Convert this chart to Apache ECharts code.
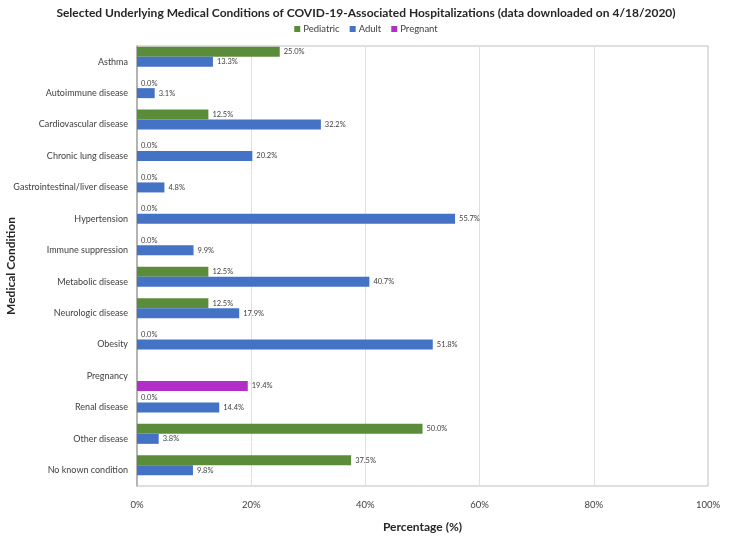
<!DOCTYPE html>
<html>
<head>
<meta charset="utf-8">
<script src="https://cdn.jsdelivr.net/npm/echarts@6/dist/echarts.min.js"></script>
<style>html,body{margin:0;padding:0;background:#fff}#c{width:732px;height:542px}</style>
</head>
<body>
<div id="c"></div>
<script>
var categories = ["Asthma","Autoimmune disease","Cardiovascular disease","Chronic lung disease","Gastrointestinal/liver disease","Hypertension","Immune suppression","Metabolic disease","Neurologic disease","Obesity","Pregnancy","Renal disease","Other disease","No known condition"];
var pediatric = [25.0,0.0,12.5,0.0,0.0,0.0,0.0,12.5,12.5,0.0,null,0.0,50.0,37.5];
var adult = [13.3,3.1,32.2,20.2,4.8,55.7,9.9,40.7,17.9,51.8,null,14.4,3.8,9.8];
var pregnant = [null,null,null,null,null,null,null,null,null,null,19.4,null,null,null];
var xTicks = [0,20,40,60,80,100];

var font = "Lato, 'Open Sans', sans-serif";
var chart = echarts.init(document.getElementById('c'), null, {renderer:'canvas'});
function lbl(){
  return {show:true, position:'right', distance:4, fontSize:7.5, color:'#404040', fontFamily:font,
    formatter:function(p){return p.value==null?'':p.value.toFixed(1)+'%';}};
}
chart.setOption({
  animation:false,
  title:{text:'Selected Underlying Medical Conditions of COVID-19-Associated Hospitalizations (data downloaded on 4/18/2020)',
    left:'center', top:2, textStyle:{fontSize:12, fontWeight:'bold', color:'#262626', fontFamily:font}},
  legend:{top:19, left:'center', itemWidth:6, itemHeight:6, itemGap:10, icon:'rect',
    textStyle:{fontSize:9.5, color:'#404040', fontFamily:font, padding:[0,0,0,-2]},
    data:['Pediatric','Adult','Pregnant']},
  grid:{left:137, right:24, top:46, bottom:56, show:true, borderColor:'#bfbfbf', borderWidth:1,
    containLabel:false, outerBoundsMode:'none'},
  xAxis:{type:'value', min:0, max:100, interval:20,
    name:'Percentage (%)', nameLocation:'middle', nameGap:35, nameMoveOverlap:false,
    nameTextStyle:{fontSize:12, fontWeight:'bold', color:'#262626', fontFamily:font},
    axisLabel:{fontSize:9.5, color:'#404040', fontFamily:font, margin:14,
      formatter:function(v){return xTicks.indexOf(v)>=0? v+'%':'';}},
    axisLine:{show:false}, axisTick:{show:false},
    splitLine:{show:true, lineStyle:{color:'#e0e0e0', width:1}}},
  yAxis:{type:'category', data:categories, inverse:true,
    name:'Medical Condition', nameLocation:'middle', nameGap:120, nameRotate:90, nameMoveOverlap:false,
    nameTextStyle:{fontSize:12, fontWeight:'bold', color:'#262626', fontFamily:font},
    axisLabel:{fontSize:9, color:'#404040', fontFamily:font, margin:9},
    axisLine:{show:true, lineStyle:{color:'#a6a6a6', width:1.5}}, axisTick:{show:false},
    splitLine:{show:false}},
  series:[
    {name:'Pediatric', type:'bar', data:pediatric, barWidth:10, barGap:'0%', itemStyle:{color:'#5b8c3a'}, label:lbl()},
    {name:'Adult', type:'bar', data:adult, barWidth:10, barGap:'0%', itemStyle:{color:'#4472c4'}, label:lbl()},
    {name:'Pregnant', type:'bar', data:pregnant, barWidth:10, barGap:'0%', itemStyle:{color:'#b12fc8'}, label:lbl()}
  ]
});
</script>
</body>
</html>
